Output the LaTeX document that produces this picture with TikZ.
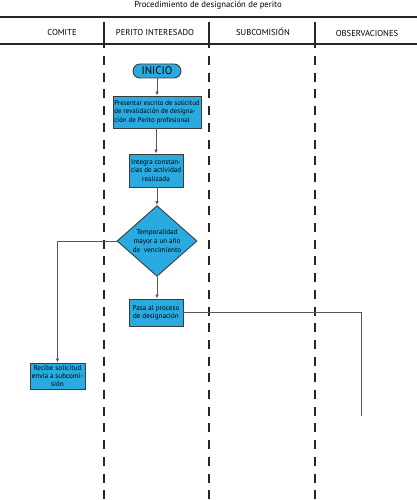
\documentclass[tikz,border=0pt]{standalone}
\usepackage{fontspec}
\setmainfont{PT Sans}
\usetikzlibrary{shapes.geometric,shapes.misc,arrows.meta}
\definecolor{boxfill}{HTML}{29ABE2}
\definecolor{boxline}{HTML}{3C3C3C}
\definecolor{conn}{HTML}{555555}
\tikzset{
  hdrline/.style={draw=black!85, line width=1.2pt},
  lanesolid/.style={draw=black!85, line width=1.4pt},
  lanedash/.style={draw=black!85, line width=1.4pt, dash pattern=on 9pt off 7.7pt},
  hdrtext/.style={font=\fontsize{8.6}{10}\selectfont, inner sep=0pt},
  proc/.style={draw=boxline, fill=boxfill, line width=0.9pt, inner sep=0.5pt,
    font=\fontsize{7.1}{8.3}\selectfont, align=center},
  dec/.style={diamond, draw=boxline, fill=boxfill, line width=0.9pt, inner sep=0pt,
    minimum width=80pt, minimum height=62pt, font=\fontsize{7.1}{8.6}\selectfont, align=center},
  term/.style={rounded rectangle, draw=boxline, fill=boxfill, line width=0.9pt,
    minimum width=48pt, minimum height=14pt, inner sep=0pt, font=\fontsize{11}{12}\selectfont},
  arr/.style={draw=conn, line width=0.8pt, -{Latex[length=4pt,width=3.5pt]}},
  plain/.style={draw=conn, line width=0.8pt}
}
\begin{document}
\begin{tikzpicture}[x=1pt,y=-1pt]
\useasboundingbox (0,0) rectangle (417,500);
% title
\node[hdrtext, font=\fontsize{8.7}{10}\selectfont] (title) at (208,5) {Procedimiento de designación de perito};
% header
\draw[hdrline] (0,17) -- (417,17);
\draw[hdrline] (0,44) -- (417,44);
\foreach \x in {104,209,315}{
  \draw[lanesolid] (\x,22) -- (\x,48);
  \draw[lanedash] (\x,56) -- (\x,500);
}
\node[hdrtext] (h1) at (62,32) {COMITE};
\node[hdrtext] (h2) at (155,32) {PERITO INTERESADO};
\node[hdrtext] (h3) at (263,32) {SUBCOMISIÓN};
\node[hdrtext] (h4) at (367,33.5) {OBSERVACIONES};
% nodes
\node[term] (start) at (157,71) {INICIO};
\node[proc, minimum width=88pt, minimum height=32pt, align=left, font=\fontsize{6.9}{8.3}\selectfont] (b1) at (157,112)
  {Presentar escrito de solicitud\\de revalidación de designa-\\ción de Perito profesional};
\node[proc, minimum width=54pt, minimum height=33pt] (b2) at (156,170.5)
  {Integra constan-\\cias de actividad\\realizada};
\node[dec] (d) at (157,241) {Temporalidad\\mayor a un año\\de\ \ vencimiento};
\node[proc, minimum width=54pt, minimum height=27pt] (pasa) at (156,312.5)
  {Pasa al proceso\\de designación};
\node[proc, minimum width=55pt, minimum height=26pt] (rec) at (57.5,376)
  {Recibe solicitud\\envía a subcomi-\\sión};
\coordinate (obsend) at (361,416);
% connectors
\draw[arr] (start.south) -- (b1.north);
\draw[arr] (b1.south -| b2.north) -- (b2.north);
\draw[arr] (b2.south -| d.north) -- (d.north);
\draw[arr] (d.west) -| (rec.north);
\draw[arr] (d.south) -- (d.south |- pasa.north);
\draw[plain] (pasa.east) -| (obsend);
\end{tikzpicture}
\end{document}
